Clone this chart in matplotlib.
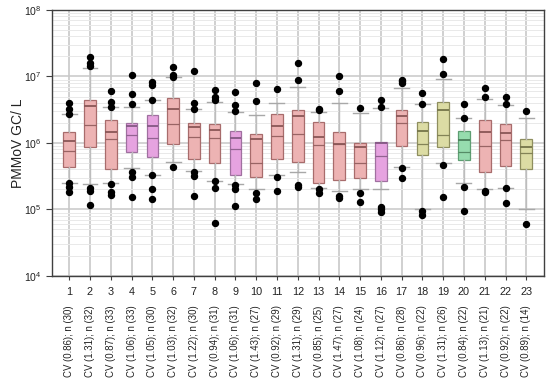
import matplotlib
matplotlib.use("Agg")
import matplotlib.pyplot as plt
import matplotlib.transforms as mtransforms
from matplotlib.ticker import LogLocator, NullFormatter

plt.rcParams['font.family'] = ['Liberation Sans', 'DejaVu Sans']
plt.rcParams['mathtext.fontset'] = 'custom'
plt.rcParams['mathtext.rm'] = 'Liberation Sans'
plt.rcParams['mathtext.it'] = 'Liberation Sans:italic'
plt.rcParams['mathtext.bf'] = 'Liberation Sans:bold'

sites = list(range(1, 24))
cv = [0.86, 1.31, 0.87, 1.06, 1.05, 1.03, 1.22, 0.94, 1.06, 1.43, 0.92, 1.31,
      0.85, 1.47, 1.08, 1.12, 0.86, 0.96, 1.31, 0.84, 1.13, 0.92, 0.89]
n_obs = [30, 32, 33, 33, 30, 32, 30, 31, 31, 27, 29, 29, 25, 27, 24, 27, 28,
         22, 26, 22, 21, 22, 14]

q1 = [4.4e5, 8.6e5, 4.0e5, 7.4e5, 6.2e5, 9.7e5, 5.8e5, 5.0e5, 3.3e5, 3.05e5, 5.7e5, 5.2e5,
      2.5e5, 2.8e5, 2.95e5, 2.7e5, 9.1e5, 6.5e5, 8.6e5, 5.5e5, 3.7e5, 4.45e5, 4.1e5]
q3 = [1.48e6, 4.4e6, 2.2e6, 2.0e6, 2.6e6, 4.8e6, 2.0e6, 1.93e6, 1.51e6, 1.35e6, 2.7e6, 3.1e6,
      2.07e6, 1.46e6, 9.9e5, 1.02e6, 3.1e6, 2.07e6, 4.2e6, 1.51e6, 2.19e6, 1.93e6, 1.14e6]
median = [1.08e6, 3.6e6, 1.46e6, 1.82e6, 1.82e6, 3.3e6, 1.76e6, 1.57e6, 1.18e6, 1.15e6, 1.8e6, 2.58e6,
          1.22e6, 9.7e5, 8.7e5, 1.0e6, 2.55e6, 1.5e6, 3.1e6, 1.11e6, 1.48e6, 1.4e6, 8.8e5]
mean = [7.7e5, 1.85e6, 1.14e6, 1.32e6, 1.2e6, 1.93e6, 1.24e6, 1.18e6, 8.1e5, 5.0e5, 1.27e6, 1.35e6,
        9.2e5, 9.6e5, 5.0e5, 6.4e5, 1.98e6, 9.6e5, 1.3e6, 7.3e5, 9.1e5, 1.11e6, 7.1e5]
whisk_hi = [2.7e6, 1.33e7, 3.5e6, 3.5e6, 4.4e6, 9.8e6, 3.3e6, 4.2e6, 2.9e6, 2.64e6, 4.0e6, 6.9e6,
            2.9e6, 3.95e6, 2.86e6, 3.4e6, 6.7e6, 3.8e6, 9.2e6, 2.38e6, 4.6e6, 3.7e6, 2.4e6]
whisk_lo = [2.5e5, 2.45e5, 2.5e5, 4.2e5, 3.3e5, 5.1e5, 3.8e5, 2.7e5, 2.4e5, 2.0e5, 3.3e5, 3.6e5,
            2.1e5, 1.9e5, 2.0e5, 2.0e5, 4.35e5, 1.0e5, 5.0e5, 2.5e5, 2.05e5, 2.1e5, 1.0e5]
outliers = [
    [4.0e6, 3.2e6, 2.7e6, 2.5e5, 2.2e5, 1.8e5],
    [1.95e7, 1.6e7, 1.45e7, 2.1e5, 1.9e5, 1.18e5],
    [6.0e6, 4.1e6, 3.5e6, 2.45e5, 1.8e5, 1.67e5],
    [1.06e7, 5.5e6, 3.8e6, 3.7e5, 3.1e5, 1.52e5],
    [8.2e6, 7.5e6, 4.4e6, 3.3e5, 2.0e5, 1.44e5],
    [1.39e7, 1.04e7, 9.8e6, 4.4e5],
    [1.22e7, 4.0e6, 3.3e6, 3.7e5, 3.2e5, 1.58e5],
    [6.3e6, 4.9e6, 4.5e6, 2.65e5, 2.1e5, 6.3e4],
    [5.9e6, 3.7e6, 3.06e6, 2.3e5, 2.0e5, 1.12e5],
    [8.1e6, 4.3e6, 1.75e5, 1.42e5],
    [6.4e6, 3.05e5, 1.88e5],
    [1.6e7, 9.0e6, 2.3e5, 2.15e5],
    [3.2e6, 3.1e6, 2.0e5, 1.77e5],
    [1.03e7, 6.1e6, 1.6e5, 1.5e5],
    [3.4e6, 1.75e5, 1.31e5],
    [4.4e6, 3.45e6, 1.08e5, 1.0e5, 9.3e4],
    [9.0e6, 8.5e6, 8.0e6, 4.2e5, 3.0e5],
    [5.7e6, 3.8e6, 9.5e4, 8.3e4],
    [1.83e7, 1.08e7, 4.6e5, 1.52e5],
    [3.9e6, 2.4e6, 2.15e5, 9.6e4],
    [6.7e6, 4.9e6, 1.9e5, 1.8e5],
    [5.0e6, 3.9e6, 2.1e5, 1.26e5],
    [3.06e6, 6.1e4],
]
group = ['s', 's', 's', 'v', 'v', 's', 's', 's', 'v', 's', 's', 's',
         's', 's', 's', 'v', 's', 'o', 'o', 'g', 's', 's', 'o']

fills = {'s': '#EDB3B3', 'v': '#E6A3E0', 'o': '#DCDCA4', 'g': '#96DCAE'}
edges = {'s': '#A86C6C', 'v': '#A070A0', 'o': '#8E8E5E', 'g': '#5E9E72'}
medc = {'s': '#8A5656', 'v': '#845884', 'o': '#74744A', 'g': '#4A7E5A'}

fig = plt.figure(figsize=(5.5, 3.78), dpi=100)
ax = fig.add_axes([0.0945, 0.270, 0.8945, 0.7035])

ax.set_yscale('log')
ax.set_ylim(1e4, 1e8)
ax.set_xlim(0.17, 23.85)

ax.yaxis.set_major_locator(LogLocator(base=10, numticks=10))
ax.yaxis.set_minor_locator(LogLocator(base=10, subs=range(2, 10), numticks=50))
ax.yaxis.set_minor_formatter(NullFormatter())
ax.grid(True, which='major', axis='y', color='#C8C8C8', lw=1.1)
ax.grid(True, which='minor', axis='y', color='#E9E9E9', lw=0.7)
ax.grid(True, which='major', axis='x', color='#C4C4C4', lw=1.1)
ax.set_axisbelow(True)

stats = []
for i in range(len(sites)):
    stats.append(dict(med=median[i], q1=q1[i], q3=q3[i], mean=mean[i],
                      whislo=whisk_lo[i], whishi=whisk_hi[i],
                      fliers=outliers[i], label=str(sites[i])))

res = ax.bxp(stats, positions=sites, widths=0.56, capwidths=0.72,
             patch_artist=True, showmeans=True, meanline=True,
             boxprops=dict(lw=0.9),
             whiskerprops=dict(color='#BDBDBD', lw=1.0),
             capprops=dict(color='#A8A8A8', lw=1.0),
             flierprops=dict(marker='o', markerfacecolor='black',
                             markeredgecolor='black', markersize=4.3),
             medianprops=dict(lw=1.3),
             meanprops=dict(lw=0.9, linestyle='-'))

for i, g in enumerate(group):
    res['boxes'][i].set_facecolor(fills[g])
    res['boxes'][i].set_edgecolor(edges[g])
    res['medians'][i].set_color(medc[g])
    res['means'][i].set_color(medc[g])
    res['means'][i].set_alpha(0.85)

ax.set_xticks(sites)
ax.set_xticklabels([str(s) for s in sites], fontsize=7.8, color='#222222')
ax.tick_params(axis='x', length=3, width=0.8, color='#404040', pad=5)
ax.tick_params(axis='y', which='major', length=4, width=0.8, color='#404040',
               labelsize=7.6, labelcolor='#222222')
ax.tick_params(axis='y', which='minor', length=0)

for sp in ax.spines.values():
    sp.set_color('#404040')
    sp.set_linewidth(1.0)

ax.set_ylabel('PMMoV GC/ L', fontsize=10, color='#222222', labelpad=-1)

trans = mtransforms.blended_transform_factory(ax.transData, ax.transAxes)
for i, s in enumerate(sites):
    ax.text(s, -0.11, f'CV ({cv[i]:.2f}); n ({n_obs[i]})', transform=trans,
            rotation=90, ha='center', va='top', fontsize=6.9, color='#222222')

fig.savefig('out.png', dpi=100)
